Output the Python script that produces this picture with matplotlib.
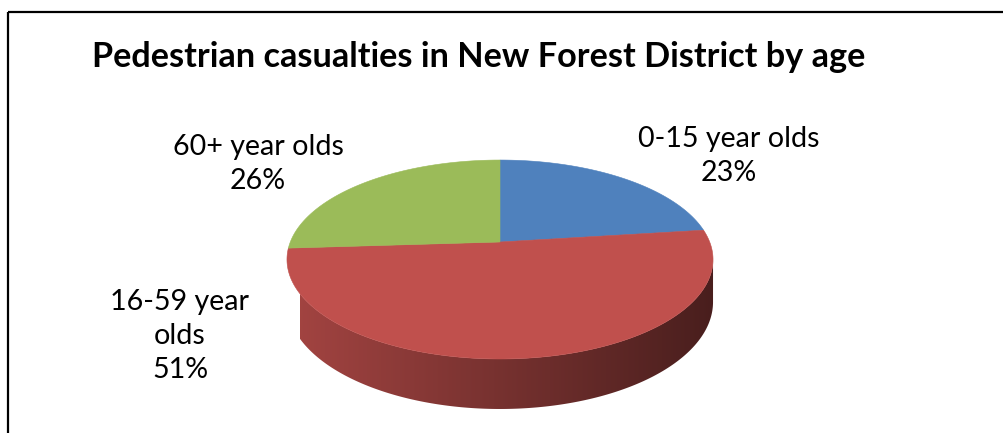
import matplotlib
matplotlib.use('Agg')
import matplotlib.pyplot as plt
import numpy as np
from matplotlib.patches import Polygon, Rectangle

# slice data, drawn clockwise from 12 o'clock
labels = ["0-15 year olds", "16-59 year\nolds", "60+ year olds"]
shares = [23, 51, 26]
colors = ["#4F81BD", "#C0504D", "#9BBB59"]
title = "Pedestrian casualties in New Forest District by age"

W, H = 1004, 433
CX, CY = 500, 242        # pie centre in pixels
RX, RY = 209.7, 96.4     # radii of the top face
K = 0.176                # perspective: back edge shrinks, front edge grows
DEPTH = 41.2             # thickness of the pie


def rim(theta, drop=0.0):
    s = 1 + K * np.sin(theta)
    x = CX + RX * np.cos(theta) / s
    y = CY - RY * np.sin(theta) / s + drop / s
    return x, y


fig = plt.figure(figsize=(W / 100, H / 100), dpi=100)
ax = fig.add_axes([0, 0, 1, 1])
ax.set_xlim(0, W)
ax.set_ylim(H, 0)
ax.axis("off")

# angular ranges of each slice (degrees, clockwise from 90)
fracs = np.array(shares) / sum(shares)
ends = 90 - 360 * np.cumsum(fracs)
starts = np.concatenate([[90], ends[:-1]])

# front wall is visible between the two silhouette angles
sil = np.degrees(np.arcsin(K))
vis_lo, vis_hi = -180 - sil, -sil
x_left, _ = rim(np.radians(vis_lo))
x_right, _ = rim(np.radians(vis_hi))

grad = np.linspace(0.84, 0.38, 256)[None, :]
for st, en, col in zip(starts, ends, colors):
    for shift in (-360, 0, 360):
        hi = min(st + shift, vis_hi)
        lo = max(en + shift, vis_lo)
        if hi <= lo:
            continue
        th = np.radians(np.linspace(hi, lo, 300))
        xt, yt = rim(th)
        xb, yb = rim(th[::-1], DEPTH)
        pts = list(zip(xt, yt)) + list(zip(xb, yb))
        clip = Polygon(pts, closed=True, facecolor="none", edgecolor="none")
        ax.add_patch(clip)
        rgb = np.array(matplotlib.colors.to_rgb(col))
        img = grad[..., None] * rgb[None, None, :]
        im = ax.imshow(img, extent=(x_left, x_right, 420, 200), aspect="auto",
                       interpolation="bilinear", zorder=1)
        im.set_clip_path(clip)

# top face
for st, en, col in zip(starts, ends, colors):
    th = np.radians(np.linspace(st, en, 200))
    xs, ys = rim(th)
    pts = [(CX, CY)] + list(zip(xs, ys))
    ax.add_patch(Polygon(pts, closed=True, facecolor=col, edgecolor=col,
                         linewidth=0.4, zorder=2))

# restore limits after imshow
ax.set_xlim(0, W)
ax.set_ylim(H, 0)

# data labels
font = "Lato"
label_pos = [(729, 156), (180, 336), (258, 164)]
for lab, val, (lx, ly) in zip(labels, shares, label_pos):
    ax.text(lx, ly, f"{lab}\n{val}%", ha="center", va="center",
            fontsize=20.6, family=font, linespacing=1.36, color="black")

ax.text(479, 57, title, ha="center", va="center", fontsize=24.7,
        fontweight="bold", family=font, color="black")

# chart frame
ax.add_patch(Rectangle((8, 12), 1010, 440, fill=False, edgecolor="black",
                       linewidth=1.6, zorder=3))

fig.savefig("out.png", dpi=100)
